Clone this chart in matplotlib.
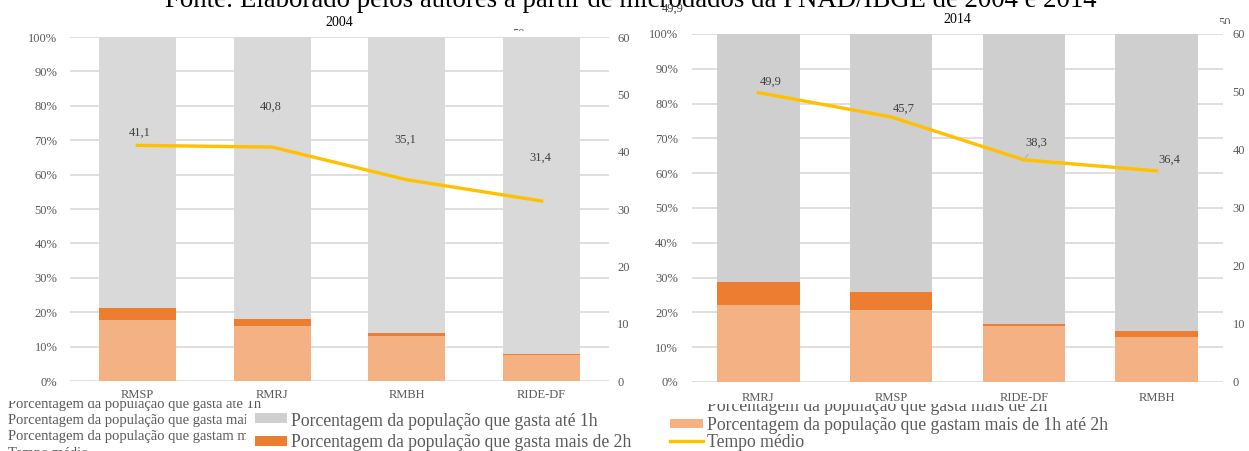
import matplotlib.pyplot as plt
from matplotlib.transforms import Bbox, TransformedBbox
from matplotlib.patches import Rectangle
from matplotlib.lines import Line2D

plt.rcParams['font.family'] = ['Liberation Serif', 'DejaVu Serif']

# 2004
reg_2004 = ['RMSP', 'RMRJ', 'RMBH', 'RIDE-DF']
entre_1h_2h_2004 = [17.6, 16.0, 13.0, 7.5]
mais_2h_2004 = [3.5, 2.0, 0.9, 0.3]
tempo_2004 = [41.1, 40.8, 35.1, 31.4]

# 2014
reg_2014 = ['RMRJ', 'RMSP', 'RIDE-DF', 'RMBH']
entre_1h_2h_2014 = [22.1, 20.7, 16.1, 12.9]
mais_2h_2014 = [6.7, 5.2, 0.5, 1.8]
tempo_2014 = [49.9, 45.7, 38.3, 36.4]

W, H = 1249, 451
TXT = '#595959'
LIGHT = '#f4b183'
DARK = '#ed7d31'
YEL = '#ffc000'

fig = plt.figure(figsize=(W / 100, H / 100), dpi=100)


def box(x0, y0, x1, y1):
    # pixel box (top-left origin) -> figure fraction rect
    return [x0 / W, 1 - y1 / H, (x1 - x0) / W, (y1 - y0) / H]


def ftext(x, y, s, clip=None, **kw):
    t = fig.text(x / W, 1 - y / H, s, va='baseline', **kw)
    if clip is not None:
        x0, y0, x1, y1 = clip
        bb = Bbox.from_extents(x0 / W, 1 - y1 / H, x1 / W, 1 - y0 / H)
        t.set_clip_box(TransformedBbox(bb, fig.transFigure))
        t.set_clip_on(True)
    return t


def panel(rect, title, regs, light, dark, tempo, gray, width, offsets, pads):
    ax = fig.add_axes(box(*rect))
    x = range(len(regs))
    top = [100 - a - b for a, b in zip(light, dark)]
    bot2 = list(light)
    bot3 = [a + b for a, b in zip(light, dark)]
    ax.bar(x, light, width, color=LIGHT, zorder=2)
    ax.bar(x, dark, width, bottom=bot2, color=DARK, zorder=2)
    ax.bar(x, top, width, bottom=bot3, color=gray, zorder=2)
    ax.set_xlim(-0.5, len(regs) - 0.5)
    ax.set_ylim(0, 100)
    ax.set_yticks(range(0, 101, 10))
    ax.set_yticklabels([f'{v}%' for v in range(0, 101, 10)])
    ax.set_xticks(list(x))
    ax.set_xticklabels(regs)
    ax.grid(axis='y', color='#d9d9d9', lw=1.2, zorder=0)
    ax.set_axisbelow(True)
    for s in ax.spines.values():
        s.set_visible(False)
    ax.tick_params(axis='y', length=0, pad=pads[0], labelsize=9, labelcolor=TXT)
    ax.tick_params(axis='x', length=0, pad=pads[1], labelsize=9, labelcolor=TXT)
    ax.set_title(title, fontsize=10, pad=8)

    ax2 = ax.twinx()
    ax2.plot(list(x), tempo, color=YEL, lw=2.4, zorder=3)
    ax2.set_ylim(0, 60)
    ax2.set_yticks(range(0, 61, 10))
    for s in ax2.spines.values():
        s.set_visible(False)
    ax2.tick_params(axis='y', length=0, pad=pads[2], labelsize=9, labelcolor=TXT)
    for i, v in enumerate(tempo):
        dx, dy, lead = offsets[i]
        ap = dict(arrowstyle='-', color='#a6a6a6', lw=0.6) if lead else None
        ax2.annotate(f'{v:.1f}'.replace('.', ','), (i, v), xytext=(dx, dy),
                     textcoords='offset points', ha='center', va='center',
                     fontsize=9, color='#404040', arrowprops=ap)
    return ax


panel((70, 37, 609, 381), '2004', reg_2004, entre_1h_2h_2004, mais_2h_2004,
      tempo_2004, '#d9d9d9', 0.57,
      [(2, 9, False), (-1, 29, False), (-1, 29, False), (-1, 31, False)],
      (9, 6, 6))
panel((692, 34, 1223, 382), '2014', reg_2014, entre_1h_2h_2014, mais_2h_2014,
      tempo_2014, '#d0cfcf', 0.62,
      [(9, 8, False), (9, 6, False), (9, 12, True), (9, 8, False)],
      (10, 7, 7))

# caption cut off by the top edge
ftext(165, 7, 'Fonte: Elaborado pelos autores a partir de microdados da PNAD/IBGE de 2004 e 2014',
      fontsize=19.3, color='black')
# stray labels partly hidden
ftext(662, 12, '49,9', clip=(600, 4, 720, 20), fontsize=9, color='#404040')
ftext(512, 37, '50', clip=(500, 26, 540, 31), fontsize=9, color=TXT)
ftext(1218, 26, '50', clip=(1200, 16, 1249, 24), fontsize=9, color=TXT)

# leftover legend text on the left
stray = ['Porcentagem da população que gasta até 1h',
         'Porcentagem da população que gasta mais de 2h',
         'Porcentagem da população que gastam mais de 1h até 2h',
         'Tempo médio']
for s, yb in zip(stray, [408, 424, 440, 457]):
    ftext(8, yb, s, clip=(0, 401, 640, 451), fontsize=10.5, color=TXT)

# white legend box covering the stray text
fig.patches.append(Rectangle((246 / W, 0), (640 - 246) / W, 1 - 415 / H,
                             transform=fig.transFigure, facecolor='white',
                             edgecolor='none', zorder=5))

# left legend
fig.patches.append(Rectangle(box(255, 413, 287, 423)[:2], 32 / W, 10 / H,
                             transform=fig.transFigure, facecolor='#cfcfcf',
                             zorder=6))
fig.patches.append(Rectangle(box(255, 436, 287, 446)[:2], 32 / W, 10 / H,
                             transform=fig.transFigure, facecolor=DARK,
                             zorder=6))
t = ftext(291, 426, 'Porcentagem da população que gasta até 1h', fontsize=12.7, color=TXT)
t.set_zorder(7)
t = ftext(291, 447, 'Porcentagem da população que gasta mais de 2h', fontsize=12.7, color=TXT)
t.set_zorder(7)

# right legend
ftext(707, 411, 'Porcentagem da população que gasta mais de 2h',
      clip=(640, 404, 1249, 451), fontsize=12.7, color=TXT)
fig.patches.append(Rectangle(box(670, 419, 703, 428)[:2], 33 / W, 9 / H,
                             transform=fig.transFigure, facecolor=LIGHT,
                             zorder=6))
fig.lines.append(Line2D([670 / W, 703 / W], [1 - 441 / H] * 2,
                        transform=fig.transFigure, color=YEL, lw=2.4))
ftext(707, 430, 'Porcentagem da população que gastam mais de 1h até 2h', fontsize=12.7, color=TXT)
ftext(707, 447, 'Tempo médio', fontsize=12.7, color=TXT)

fig.savefig('out.png', dpi=100)
